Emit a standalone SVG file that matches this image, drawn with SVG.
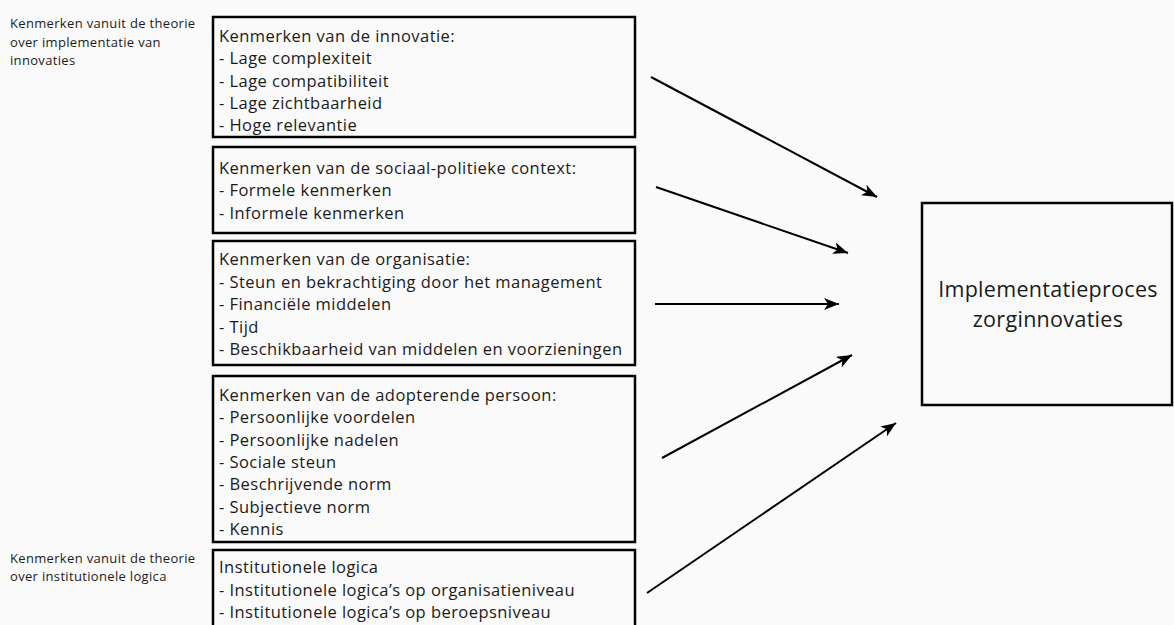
<svg xmlns="http://www.w3.org/2000/svg" width="1174" height="625" viewBox="0 0 1174 625">
  <style>
    .box { fill: none; stroke: #000; stroke-width: 2.5; }
    .t { font-family: "Open Sans", "Liberation Sans", sans-serif; font-size: 16.5px; letter-spacing: 0.45px; fill: #1a1a1a; }
    .lbl { font-family: "Open Sans", "Liberation Sans", sans-serif; font-size: 13px; letter-spacing: 0.33px; fill: #1a1a1a; }
    .big { font-family: "Open Sans", "Liberation Sans", sans-serif; font-size: 21.5px; letter-spacing: 0.3px; fill: #1a1a1a; text-anchor: middle; }
    .conn { stroke: #000; stroke-width: 2; fill: none; marker-end: url(#arr); }
  </style>
  <defs>
    <marker id="arr" markerUnits="userSpaceOnUse" markerWidth="16" markerHeight="12" refX="15" refY="6" orient="auto">
      <path d="M0,0 L15,6 L0,12 L4,6 z" fill="#000"/>
    </marker>
  </defs>
  <rect x="0" y="0" width="1174" height="625" fill="#fafafa"/>

  <g id="label-theorie-implementatie">
    <text class="lbl" x="10" y="28">Kenmerken vanuit de theorie</text>
    <text class="lbl" x="10" y="46.5">over implementatie van</text>
    <text class="lbl" x="10" y="64.5">innovaties</text>
  </g>
  <g id="label-theorie-institutioneel">
    <text class="lbl" x="10" y="563">Kenmerken vanuit de theorie</text>
    <text class="lbl" x="10" y="580.5">over institutionele logica</text>
  </g>

  <g id="node-innovatie">
    <rect class="box" x="213" y="17" width="422" height="120"/>
    <text class="t" x="219" y="42">Kenmerken van de innovatie:</text>
    <text class="t" x="219" y="64">- Lage complexiteit</text>
    <text class="t" x="219" y="86.5">- Lage compatibiliteit</text>
    <text class="t" x="219" y="109">- Lage zichtbaarheid</text>
    <text class="t" x="219" y="131">- Hoge relevantie</text>
  </g>

  <g id="node-context">
    <rect class="box" x="213" y="147" width="422" height="86"/>
    <text class="t" x="219" y="174">Kenmerken van de sociaal-politieke context:</text>
    <text class="t" x="219" y="196">- Formele kenmerken</text>
    <text class="t" x="219" y="218.5">- Informele kenmerken</text>
  </g>

  <g id="node-organisatie">
    <rect class="box" x="213" y="241" width="422" height="124"/>
    <text class="t" x="219" y="265">Kenmerken van de organisatie:</text>
    <text class="t" x="219" y="287.5">- Steun en bekrachtiging door het management</text>
    <text class="t" x="219" y="310">- Financiële middelen</text>
    <text class="t" x="219" y="332.5">- Tijd</text>
    <text class="t" x="219" y="355">- Beschikbaarheid van middelen en voorzieningen</text>
  </g>

  <g id="node-persoon">
    <rect class="box" x="213" y="376" width="422" height="166"/>
    <text class="t" x="219" y="401">Kenmerken van de adopterende persoon:</text>
    <text class="t" x="219" y="423">- Persoonlijke voordelen</text>
    <text class="t" x="219" y="445.5">- Persoonlijke nadelen</text>
    <text class="t" x="219" y="468">- Sociale steun</text>
    <text class="t" x="219" y="490">- Beschrijvende norm</text>
    <text class="t" x="219" y="512.5">- Subjectieve norm</text>
    <text class="t" x="219" y="535">- Kennis</text>
  </g>

  <g id="node-institutioneel">
    <rect class="box" x="213" y="550" width="422" height="90"/>
    <text class="t" x="219" y="573">Institutionele logica</text>
    <text class="t" x="219" y="595.5">- Institutionele logica’s op organisatieniveau</text>
    <text class="t" x="219" y="618">- Institutionele logica’s op beroepsniveau</text>
  </g>

  <g id="node-implementatieproces">
    <rect class="box" x="922" y="203" width="250" height="202"/>
    <text class="big" x="1048" y="297">Implementatieproces</text>
    <text class="big" x="1048" y="327">zorginnovaties</text>
  </g>

  <g id="connectors">
    <line class="conn" x1="651" y1="77" x2="877" y2="197"/>
    <line class="conn" x1="656" y1="187" x2="848" y2="253"/>
    <line class="conn" x1="655" y1="304" x2="839" y2="304"/>
    <line class="conn" x1="662" y1="458" x2="852" y2="355"/>
    <line class="conn" x1="647" y1="593" x2="896" y2="423"/>
  </g>
</svg>
